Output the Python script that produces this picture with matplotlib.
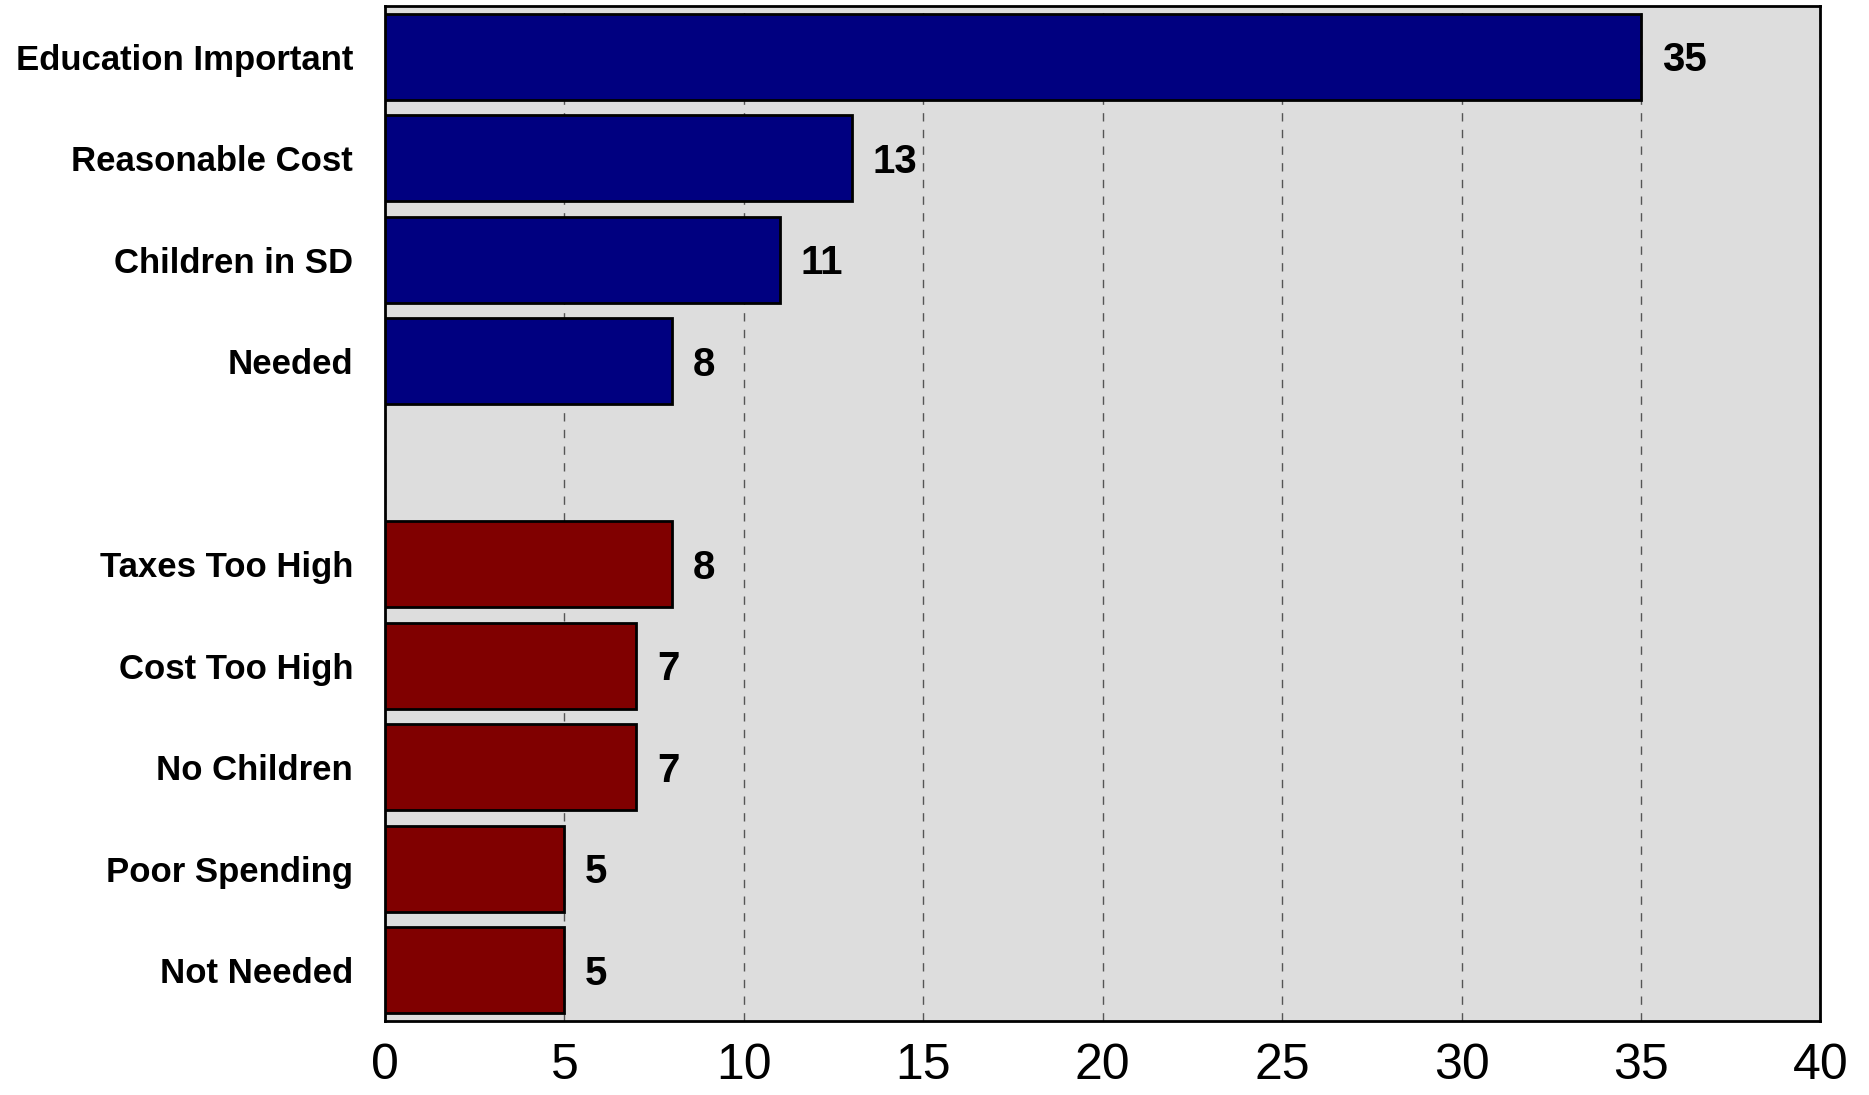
import matplotlib.pyplot as plt

# reasons, top block = support (blue), bottom block = oppose (red)
support_labels = ['Education Important', 'Reasonable Cost', 'Children in SD', 'Needed']
support_values = [35, 13, 11, 8]
oppose_labels = ['Taxes Too High', 'Cost Too High', 'No Children', 'Poor Spending', 'Not Needed']
oppose_values = [8, 7, 7, 5, 5]
x_ticks = [0, 5, 10, 15, 20, 25, 30, 35, 40]

plt.rcParams['font.family'] = ['Liberation Sans', 'DejaVu Sans']

fig = plt.figure(figsize=(18.69, 10.95), dpi=100)
ax = fig.add_axes([0.206, 0.0676, 0.768, 0.927])
ax.set_facecolor('#dddddd')

# one empty slot between the two groups
sup_pos = list(range(len(support_values)))
opp_pos = [len(support_values) + 1 + i for i in range(len(oppose_values))]

bars1 = ax.barh(sup_pos, support_values, height=0.85, color='#000080',
                edgecolor='black', linewidth=2, zorder=3)
bars2 = ax.barh(opp_pos, oppose_values, height=0.85, color='#800000',
                edgecolor='black', linewidth=2, zorder=3)

for bars, vals in [(bars1, support_values), (bars2, oppose_values)]:
    for b, v in zip(bars, vals):
        ax.annotate(str(v), (v, b.get_y() + b.get_height() / 2),
                    xytext=(15, -2.5), textcoords='offset points',
                    va='center', ha='left', fontsize=29, fontweight='bold')

ax.set_xlim(0, 40)
ax.set_ylim(len(sup_pos) + len(opp_pos) + 0.5, -0.5)
ax.set_xticks(x_ticks)
ax.set_yticks(sup_pos + opp_pos)
ax.set_yticklabels(support_labels + oppose_labels, fontsize=25, fontweight='bold')
ax.tick_params(axis='x', length=0, pad=16, labelsize=36)
ax.tick_params(axis='y', length=0, pad=23)

ax.grid(axis='x', linestyle=(0, (6, 6)), color='#555555', linewidth=1, zorder=1)
ax.set_axisbelow(True)
for s in ax.spines.values():
    s.set_linewidth(2)

plt.savefig('out.png', dpi=100)
